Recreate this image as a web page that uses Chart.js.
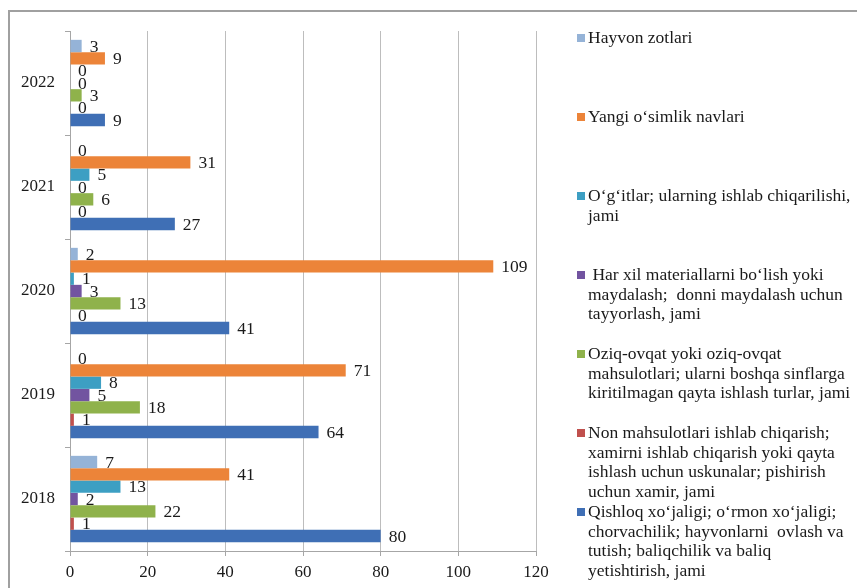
<!DOCTYPE html>
<html>
<head>
<meta charset="utf-8">
<script src="https://cdn.jsdelivr.net/npm/chart.js@4.4.1/dist/chart.umd.min.js"></script>
<style>
  html, body { margin: 0; padding: 0; background: #fff; }
  #wrap { position: relative; width: 857px; height: 588px; overflow: hidden; }
  #frame { position: absolute; left: 8px; top: 10px; width: 900px; height: 640px;
           border: 2px solid #a0a0a0; box-sizing: border-box; }
  #chart { position: absolute; left: 0; top: 0; }
  .leg { position: absolute; left: 576px; font: 17.5px 'Liberation Serif', 'Times New Roman', serif;
         color: #1a1a1a; line-height: 19.5px; white-space: pre; }
  .leg .box { position: absolute; left: 1px; top: 6px; width: 8px; height: 8px; }
  .leg .txt { margin-left: 12px; }
</style>
</head>
<body>
<div id="wrap">
  <div id="frame"></div>
  <canvas id="chart" width="857" height="588"></canvas>
</div>
<script>
// categories, top to bottom as drawn
var years = ['2022', '2021', '2020', '2019', '2018'];

// series values, same order as years
var hayvon  = [3, 0, 2, 0, 7];
var yangi   = [9, 31, 109, 71, 41];
var ogitlar = [0, 5, 1, 8, 13];
var harXil  = [0, 0, 3, 5, 2];
var oziq    = [3, 6, 13, 18, 22];
var non     = [0, 0, 0, 1, 1];
var qishloq = [9, 27, 41, 64, 80];

// x axis ticks
var xTicks = [0, 20, 40, 60, 80, 100, 120];

// legend texts, one entry per line as in the original
var legendLines = [
  ['Hayvon zotlari'],
  ['Yangi o\u2018simlik navlari'],
  ['O\u2018g\u2018itlar; ularning ishlab chiqarilishi,', 'jami'],
  [' Har xil materiallarni bo\u2018lish yoki', 'maydalash;  donni maydalash uchun', 'tayyorlash, jami'],
  ['Oziq-ovqat yoki oziq-ovqat', 'mahsulotlari; ularni boshqa sinflarga', 'kiritilmagan qayta ishlash turlar, jami'],
  ['Non mahsulotlari ishlab chiqarish;', 'xamirni ishlab chiqarish yoki qayta', 'ishlash uchun uskunalar; pishirish', 'uchun xamir, jami'],
  ['Qishloq xo\u2018jaligi; o\u2018rmon xo\u2018jaligi;', 'chorvachilik; hayvonlarni  ovlash va', 'tutish; baliqchilik va baliq', 'yetishtirish, jami']
];

var colors = ['#95b3d7', '#ec8439', '#3d9fc3', '#7254a0', '#8fb24b', '#c0504d', '#3f6fb5'];
var series = [hayvon, yangi, ogitlar, harXil, oziq, non, qishloq];

var serif = "'Liberation Serif', 'Times New Roman', serif";

// value labels right of each bar end
var barLabels = {
  id: 'barLabels',
  afterDatasetsDraw: function(chart) {
    var ctx = chart.ctx;
    ctx.save();
    ctx.font = '17.5px ' + serif;
    ctx.fillStyle = '#1a1a1a';
    ctx.textAlign = 'left';
    ctx.textBaseline = 'middle';
    chart.data.datasets.forEach(function(ds, i) {
      chart.getDatasetMeta(i).data.forEach(function(bar, j) {
        ctx.fillText(String(ds.data[j]), bar.x + 8, bar.y + 1);
      });
    });
    ctx.restore();
  }
};

var datasets = series.map(function(data, i) {
  return {
    label: legendLines[i].join(' '),
    data: data,
    backgroundColor: colors[i],
    borderWidth: 0,
    categoryPercentage: 0.83,
    barPercentage: 1.0
  };
});

new Chart(document.getElementById('chart'), {
  type: 'bar',
  data: { labels: years, datasets: datasets },
  plugins: [barLabels],
  options: {
    indexAxis: 'y',
    responsive: false,
    animation: false,
    layout: { padding: { left: 0, right: 321, top: 31, bottom: 0 } },
    plugins: { legend: { display: false }, tooltip: { enabled: false } },
    scales: {
      x: {
        min: 0, max: 120,
        afterBuildTicks: function(axis) {
          axis.ticks = xTicks.map(function(v) { return { value: v }; });
        },
        afterFit: function(axis) { axis.height = 37; },
        grid: { color: '#bdbdbd', lineWidth: 1, tickLength: 5, tickColor: '#a6a6a6' },
        border: { color: '#a6a6a6', width: 1 },
        ticks: { color: '#1a1a1a', font: { family: serif, size: 17 }, padding: 6 }
      },
      y: {
        afterFit: function(axis) { axis.width = 70; },
        grid: { drawOnChartArea: false, tickLength: 5, color: '#a6a6a6' },
        border: { color: '#a6a6a6', width: 1 },
        ticks: { color: '#1a1a1a', font: { family: serif, size: 17 }, padding: 10 }
      }
    }
  }
});

// legend on the right, built from the same series
var wrap = document.getElementById('wrap');
legendLines.forEach(function(lines, i) {
  var item = document.createElement('div');
  item.className = 'leg';
  item.style.top = (28 + i * 79) + 'px';
  var box = document.createElement('span');
  box.className = 'box';
  box.style.background = colors[i];
  var txt = document.createElement('div');
  txt.className = 'txt';
  txt.textContent = lines.join('\n');
  item.appendChild(box);
  item.appendChild(txt);
  wrap.appendChild(item);
});
</script>
</body>
</html>
